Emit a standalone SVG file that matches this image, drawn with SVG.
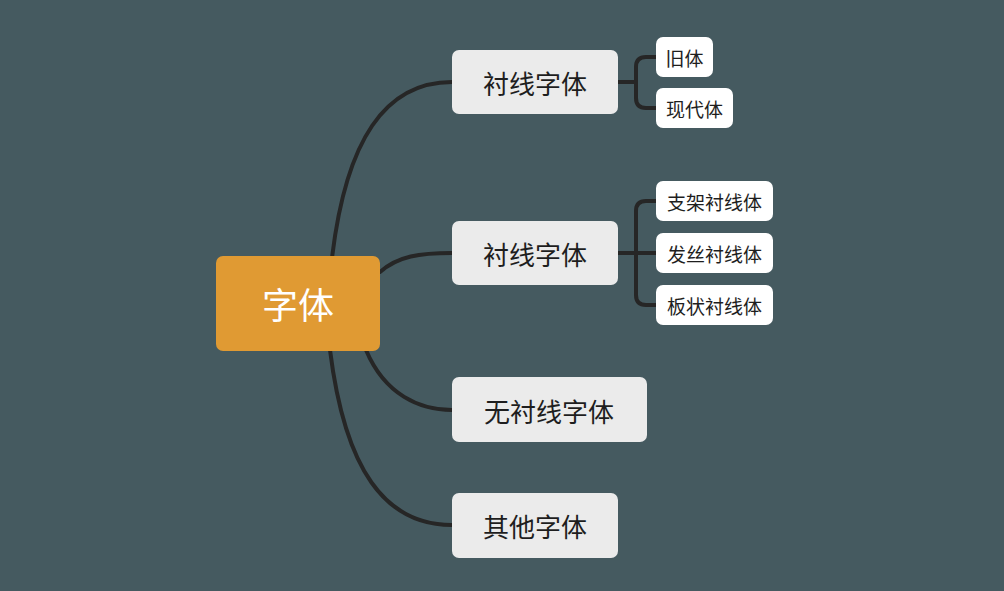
<svg xmlns="http://www.w3.org/2000/svg" width="1004" height="591" viewBox="0 0 1004 591">
<style>
.c{fill:none;stroke:#262626;stroke-width:4;stroke-linecap:round}
.l1{fill:#ebebeb}
.l2{fill:#ffffff}
.t{font-family:"Noto Sans CJK SC","Noto Sans",sans-serif;fill:#1e1e1e;text-anchor:middle;dominant-baseline:central}
</style>
<rect width="1004" height="591" fill="#455a60"/>
<g id="connectors">
<path class="c" d="M332,258 C346,140 385,82 452,82"/>
<path class="c" d="M380,272 C398,256 420,253 452,253"/>
<path class="c" d="M366,350 C385,395 420,410 452,410"/>
<path class="c" d="M330,350 C345,470 385,525 452,525"/>
<path class="c" d="M618,82 H636 M656,57 H646 Q636,57 636,67 V98 Q636,108 646,108 H656"/>
<path class="c" d="M618,253 H656 M656,201 H646 Q636,201 636,211 V295 Q636,305 646,305 H656"/>
</g>
<g id="root"><rect x="216" y="256" width="164" height="95" rx="7" fill="#e09a33"/><text class="t" x="298" y="303" font-size="36" style="fill:#fff">字体</text></g>
<g id="n1"><rect class="l1" x="452" y="50" width="166" height="64" rx="7"/><text class="t" x="535" y="82" font-size="26">衬线字体</text></g>
<g id="n2"><rect class="l1" x="452" y="221" width="166" height="64" rx="7"/><text class="t" x="535" y="253" font-size="26">衬线字体</text></g>
<g id="n3"><rect class="l1" x="452" y="377" width="195" height="65" rx="7"/><text class="t" x="549" y="410" font-size="26">无衬线字体</text></g>
<g id="n4"><rect class="l1" x="452" y="493" width="166" height="65" rx="7"/><text class="t" x="535" y="525" font-size="26">其他字体</text></g>
<g id="n5"><rect class="l2" x="656" y="37" width="57" height="40" rx="7"/><text class="t" x="684.5" y="57" font-size="19">旧体</text></g>
<g id="n6"><rect class="l2" x="656" y="88" width="77" height="40" rx="7"/><text class="t" x="694.5" y="108" font-size="19">现代体</text></g>
<g id="n7"><rect class="l2" x="656" y="181" width="117" height="40" rx="7"/><text class="t" x="714.5" y="201" font-size="19">支架衬线体</text></g>
<g id="n8"><rect class="l2" x="656" y="233" width="117" height="40" rx="7"/><text class="t" x="714.5" y="253" font-size="19">发丝衬线体</text></g>
<g id="n9"><rect class="l2" x="656" y="285" width="117" height="40" rx="7"/><text class="t" x="714.5" y="305" font-size="19">板状衬线体</text></g>
</svg>
